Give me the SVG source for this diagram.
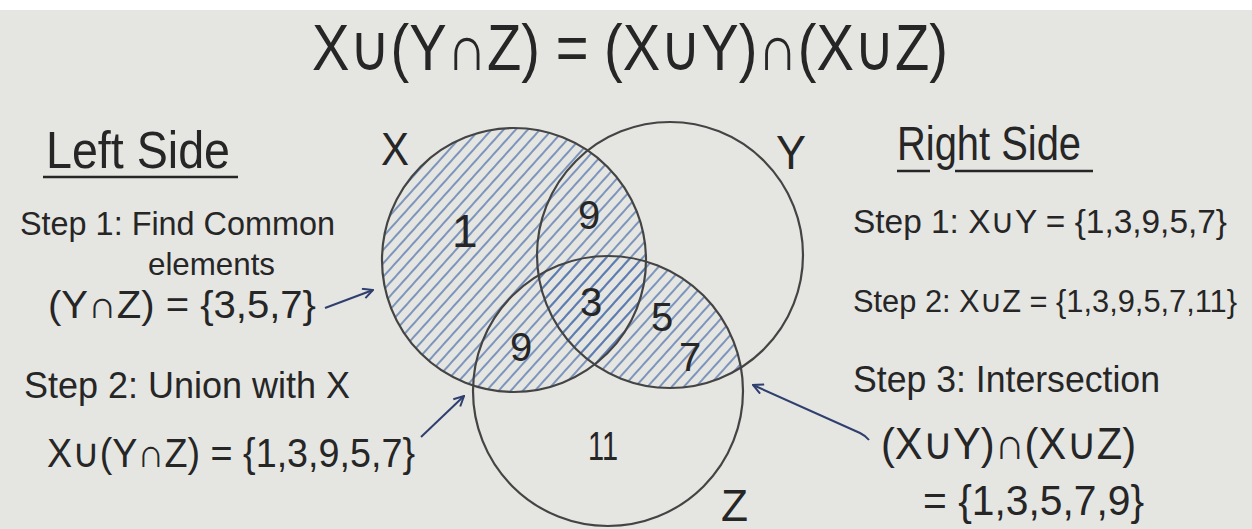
<svg xmlns="http://www.w3.org/2000/svg" width="1252" height="529" viewBox="0 0 1252 529">
<style>
.t{font-family:"Liberation Sans","DejaVu Sans",sans-serif;fill:#262626;}
.c{fill:none;stroke:#444;stroke-width:2.2;}
.ul{stroke:#262626;stroke-width:2.5;}
.ar{fill:none;stroke:#2f3f6e;stroke-width:2;}
</style>
<defs>
<pattern id="hatch" patternUnits="userSpaceOnUse" width="9" height="9" patternTransform="rotate(42)">
<line x1="2" y1="0" x2="2" y2="9" stroke="#4f72ad" stroke-width="1.4"/>
</pattern>
<clipPath id="cx"><circle cx="514" cy="260" r="132"/></clipPath>
<clipPath id="cy"><circle cx="670" cy="255" r="133"/></clipPath>
<clipPath id="cz"><circle cx="608" cy="391" r="135"/></clipPath>
<marker id="ah" viewBox="0 0 12 12" refX="11" refY="6" markerWidth="12" markerHeight="12" markerUnits="userSpaceOnUse" orient="auto">
<path d="M1,1 L11,6 L1,11" fill="none" stroke="#2f3f6e" stroke-width="2"/>
</marker>
</defs>
<rect width="1252" height="529" fill="#e5e5e2"/>
<rect width="1252" height="10" fill="#ffffff"/>

<g id="title"><text class="t" x="312" y="70" font-size="64" textLength="636" lengthAdjust="spacingAndGlyphs">X∪(Y∩Z) = (X∪Y)∩(X∪Z)</text></g>

<g id="hatching">
<rect x="370" y="120" width="300" height="290" fill="url(#hatch)" clip-path="url(#cx)"/>
<g clip-path="url(#cy)"><rect x="460" y="250" width="300" height="150" fill="url(#hatch)" clip-path="url(#cz)"/></g>
</g>

<g id="set-x"><circle class="c" cx="514" cy="260" r="132"/><text class="t" x="381" y="165" font-size="46" textLength="28" lengthAdjust="spacingAndGlyphs">X</text></g>
<g id="set-y"><circle class="c" cx="670" cy="255" r="133"/><text class="t" x="776" y="169" font-size="48" textLength="30" lengthAdjust="spacingAndGlyphs">Y</text></g>
<g id="set-z"><circle class="c" cx="608" cy="391" r="135"/><text class="t" x="721" y="521" font-size="44" textLength="27" lengthAdjust="spacingAndGlyphs">Z</text></g>

<g id="regions" font-size="40">
<text class="t" x="452" y="247" font-size="46">1</text>
<text class="t" x="578" y="229">9</text>
<text class="t" x="580" y="316">3</text>
<text class="t" x="651" y="331">5</text>
<text class="t" x="679" y="371">7</text>
<text class="t" x="510" y="361">9</text>
<text class="t" x="588" y="460" font-size="40" textLength="30" lengthAdjust="spacingAndGlyphs">11</text>
</g>

<g id="left-side">
<text class="t" x="46" y="168" font-size="52" textLength="184" lengthAdjust="spacingAndGlyphs">Left Side</text>
<line class="ul" x1="43" y1="177" x2="238" y2="177"/>
<text class="t" x="20" y="235" font-size="34" textLength="315" lengthAdjust="spacingAndGlyphs">Step 1: Find Common</text>
<text class="t" x="148" y="275" font-size="32" textLength="127" lengthAdjust="spacingAndGlyphs">elements</text>
<text class="t" x="48" y="318" font-size="38" textLength="268" lengthAdjust="spacingAndGlyphs">(Y∩Z) = {3,5,7}</text>
<text class="t" x="24" y="398" font-size="36" textLength="326" lengthAdjust="spacingAndGlyphs">Step 2: Union with X</text>
<text class="t" x="47" y="467" font-size="40" textLength="368" lengthAdjust="spacingAndGlyphs">X∪(Y∩Z) = {1,3,9,5,7}</text>
</g>

<g id="right-side">
<text class="t" x="897" y="160" font-size="48" textLength="184" lengthAdjust="spacingAndGlyphs">Right Side</text>
<line class="ul" x1="897" y1="171" x2="930" y2="171"/>
<line class="ul" x1="955" y1="171" x2="1093" y2="171"/>
<text class="t" x="853" y="233" font-size="34" textLength="374" lengthAdjust="spacingAndGlyphs">Step 1: X∪Y = {1,3,9,5,7}</text>
<text class="t" x="853" y="312" font-size="31" textLength="384" lengthAdjust="spacingAndGlyphs">Step 2: X∪Z = {1,3,9,5,7,11}</text>
<text class="t" x="853" y="392" font-size="36" textLength="307" lengthAdjust="spacingAndGlyphs">Step 3: Intersection</text>
<text class="t" x="881" y="459" font-size="44" textLength="255" lengthAdjust="spacingAndGlyphs">(X∪Y)∩(X∪Z)</text>
<text class="t" x="923" y="515" font-size="42" textLength="221" lengthAdjust="spacingAndGlyphs">= {1,3,5,7,9}</text>
</g>

<g id="connectors">
<path class="ar" d="M325,308 L373,290" marker-end="url(#ah)"/>
<path class="ar" d="M421,437 L464,396" marker-end="url(#ah)"/>
<path class="ar" d="M869,440 Q866,436 860,433 L753,385" marker-end="url(#ah)"/>
</g>
</svg>
